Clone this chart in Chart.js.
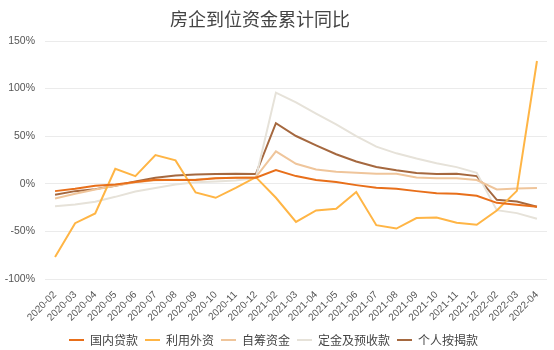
<!DOCTYPE html>
<html>
<head>
<meta charset="utf-8">
<script src="https://cdn.jsdelivr.net/npm/chart.js@4/dist/chart.umd.min.js"></script>
<style>
  html, body { margin: 0; padding: 0; background: #fff; }
  #wrap { width: 554px; height: 350px; }
</style>
</head>
<body>
<div id="wrap"><canvas id="c" width="554" height="350"></canvas></div>
<script>
// 月份（1月与2月合并发布，故无1月）
const months = [
  '2020-02','2020-03','2020-04','2020-05','2020-06','2020-07','2020-08','2020-09','2020-10','2020-11','2020-12',
  '2021-02','2021-03','2021-04','2021-05','2021-06','2021-07','2021-08','2021-09','2021-10','2021-11','2021-12',
  '2022-02','2022-03','2022-04'
];

// 各资金来源累计同比（%）
const domesticLoans = [-7.7,-5.2,-2.0,-0.7,1.8,4.2,3.9,4.0,5.7,6.3,6.3,14.4,8.1,3.9,1.8,-1.4,-4.2,-5.2,-7.7,-9.8,-10.5,-12.6,-20.0,-22.0,-24.2];
const foreignCapital = [-77,-41.4,-31.2,15.8,8.1,30.2,24.6,-9.1,-14.7,-4.2,7.0,-14.7,-40.0,-28.0,-26.3,-8.7,-43.5,-47.0,-36.0,-35.4,-41.0,-43.0,-28.0,-7.4,129.0];
const selfRaised = [-15.4,-10.5,-5.9,-2.0,1.5,3.6,4.2,4.6,5.7,6.3,7.0,34.0,21.0,15.1,12.6,11.6,10.5,10.5,6.7,5.7,5.7,3.9,-5.9,-4.9,-4.5];
const depositsAdvance = [-23.5,-21.7,-18.9,-13.7,-8.0,-4.5,-0.7,1.5,2.5,3.5,6.0,95.8,85.5,73.8,62.5,50.1,39.0,32.0,26.5,21.5,17.5,11.6,-27.7,-30.8,-36.8];
const mortgage = [-11.5,-7.7,-5.6,-2.0,2.5,6.3,8.8,9.8,10.2,10.5,10.2,63.6,50.2,40.4,31.0,23.5,17.6,14.2,11.3,10.2,10.5,8.1,-16.8,-18.6,-24.2];

// y轴刻度
const yTicks = [-100, -50, 0, 50, 100, 150];

const chartTitle = '房企到位资金累计同比';
const seriesNames = ['国内贷款','利用外资','自筹资金','定金及预收款','个人按揭款'];
const seriesData = [domesticLoans, foreignCapital, selfRaised, depositsAdvance, mortgage];
const seriesColors = ['#e86f1a','#ffb545','#efc59b','#e6e2d9','#a5683f'];

const datasets = seriesNames.map((name, i) => ({
  label: name,
  data: seriesData[i],
  borderColor: seriesColors[i],
  backgroundColor: seriesColors[i],
  borderWidth: 2,
  pointRadius: 0,
  pointHoverRadius: 0,
  tension: 0,
  fill: false
}));

// 标题单独绘制，位置略偏左
const titlePlugin = {
  id: 'chartTitle',
  afterDraw(chart) {
    const ctx = chart.ctx;
    ctx.save();
    ctx.fillStyle = '#444';
    ctx.font = '18px "Noto Sans CJK SC", sans-serif';
    ctx.textAlign = 'center';
    ctx.textBaseline = 'middle';
    ctx.fillText(chartTitle, 260, 19);
    ctx.restore();
  }
};

new Chart(document.getElementById('c'), {
  type: 'line',
  data: { labels: months, datasets },
  plugins: [titlePlugin],
  options: {
    responsive: false,
    animation: false,
    devicePixelRatio: 1,
    layout: { padding: { left: 0, right: 7, top: 41, bottom: -6 } },
    plugins: {
      title: { display: false },
      legend: {
        position: 'bottom',
        labels: {
          usePointStyle: true,
          pointStyle: 'line',
          pointStyleWidth: 15,
          boxHeight: 2,
          padding: 7,
          color: '#444',
          font: { family: '"Noto Sans CJK SC", sans-serif', size: 12 }
        }
      },
      tooltip: { enabled: false }
    },
    scales: {
      x: {
        offset: true,
        grid: { display: false },
        border: { display: false },
        afterFit: (scale) => { scale.height = 48; },
        ticks: {
          color: '#555',
          font: { family: '"Liberation Sans", Arial, sans-serif', size: 10 },
          maxRotation: 45,
          minRotation: 45,
          autoSkip: false,
          padding: 2
        }
      },
      y: {
        min: -100,
        max: 150,
        afterBuildTicks: (scale) => { scale.ticks = yTicks.map(v => ({ value: v })); },
        afterFit: (scale) => { scale.width = 45; },
        grid: { color: '#ebebeb', lineWidth: 1, drawTicks: false },
        border: { display: false },
        ticks: {
          color: '#555',
          font: { family: '"Liberation Sans", Arial, sans-serif', size: 10.5 },
          padding: 10,
          callback: (v) => v + '%'
        }
      }
    }
  }
});
</script>
</body>
</html>
